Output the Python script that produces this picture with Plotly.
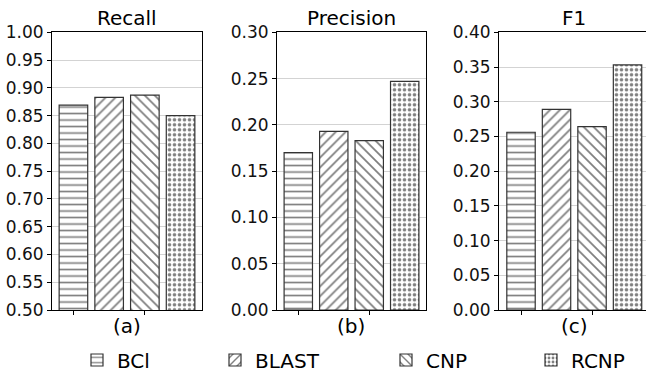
import plotly.graph_objects as go
from plotly.subplots import make_subplots

methods = ["BCl", "BLAST", "CNP", "RCNP"]
recall = [0.869, 0.883, 0.887, 0.850]
precision = [0.170, 0.193, 0.183, 0.247]
f1 = [0.256, 0.289, 0.264, 0.353]
panel_titles = ["Recall", "Precision", "F1"]
panel_labels = ["(a)", "(b)", "(c)"]
y_ranges = [[0.5, 1.0], [0.0, 0.30], [0.0, 0.40]]
y_ticks = [[0.50, 0.55, 0.60, 0.65, 0.70, 0.75, 0.80, 0.85, 0.90, 0.95, 1.00],
           [0.00, 0.05, 0.10, 0.15, 0.20, 0.25, 0.30],
           [0.00, 0.05, 0.10, 0.15, 0.20, 0.25, 0.30, 0.35, 0.40]]
patterns = ["-", "/", "\\", "."]
pattern_sizes = [6.5, 7, 7, 5]
pattern_solidity = [0.25, 0.25, 0.25, 0.4]

W, H = 646, 378
FONT = "DejaVu Sans"

fig = make_subplots(rows=1, cols=3)
series = [recall, precision, f1]
legend_names = ["legend", "legend2", "legend3", "legend4"]
for p, vals in enumerate(series):
    for i, m in enumerate(methods):
        fig.add_trace(go.Bar(
            x=[i], y=[vals[i]], name=m, width=0.8,
            showlegend=(p == 0), legendgroup=m, legend=legend_names[i],
            marker=dict(color="white",
                        line=dict(color="#333333", width=1.2),
                        pattern=dict(shape=patterns[i], fgcolor="black", bgcolor="white",
                                     size=pattern_sizes[i], solidity=pattern_solidity[i])),
        ), row=1, col=p + 1)

# pixel domains
x_px = [(52, 202), (277, 426), (499, 646)]
x_ranges = [[-0.6, 3.6], [-0.6, 3.6], [-0.62, 3.52]]
top_px, bot_px = 32.3, 310
for p in range(3):
    ax = "" if p == 0 else str(p + 1)
    fig.layout["xaxis" + ax].update(
        domain=[x_px[p][0] / W, x_px[p][1] / W], range=x_ranges[p],
        tickvals=[0, 2], ticktext=["", ""], ticks="outside", ticklen=4,
        tickcolor="black", showline=True, linecolor="black", linewidth=1,
        mirror=True, showgrid=False, zeroline=False, fixedrange=True,
        automargin=False)
    fig.layout["yaxis" + ax].update(
        domain=[1 - bot_px / H, 1 - top_px / H], range=y_ranges[p],
        tickvals=y_ticks[p], tickformat=".2f", ticks="outside", ticklen=4,
        tickcolor="black", showline=True, linecolor="black", linewidth=1,
        mirror=(p != 2), showgrid=True, gridcolor="#d3d3d3", gridwidth=1,
        zeroline=False, automargin=False,
        tickfont=dict(family=FONT, size=17, color="#111111"))
    cx = (x_px[p][0] + (x_px[p][1] if p < 2 else 649)) / 2 / W
    fig.add_annotation(x=cx, y=1 - 18 / H, xref="paper", yref="paper",
                       text=panel_titles[p], showarrow=False,
                       font=dict(family=FONT, size=20, color="black"),
                       xanchor="center", yanchor="middle")
    fig.add_annotation(x=cx, y=1 - 326 / H, xref="paper", yref="paper",
                       text=panel_labels[p], showarrow=False,
                       font=dict(family=FONT, size=20, color="black"),
                       xanchor="center", yanchor="middle")

text_starts = [118, 256, 427, 572]
legends = {}
for i, name in enumerate(legend_names):
    legends[name] = dict(orientation="h", x=(text_starts[i] - 41) / W, xanchor="left",
                         y=1 - 360 / H, yanchor="middle", font=dict(family=FONT, size=20),
                         itemwidth=30, bgcolor="rgba(0,0,0,0)")

fig.update_layout(
    width=W, height=H, margin=dict(l=0, r=0, t=0, b=0, autoexpand=False),
    paper_bgcolor="white", plot_bgcolor="white",
    barmode="overlay",
    font=dict(family=FONT, color="black"),
    **legends,
)

fig.write_html("out.html")
